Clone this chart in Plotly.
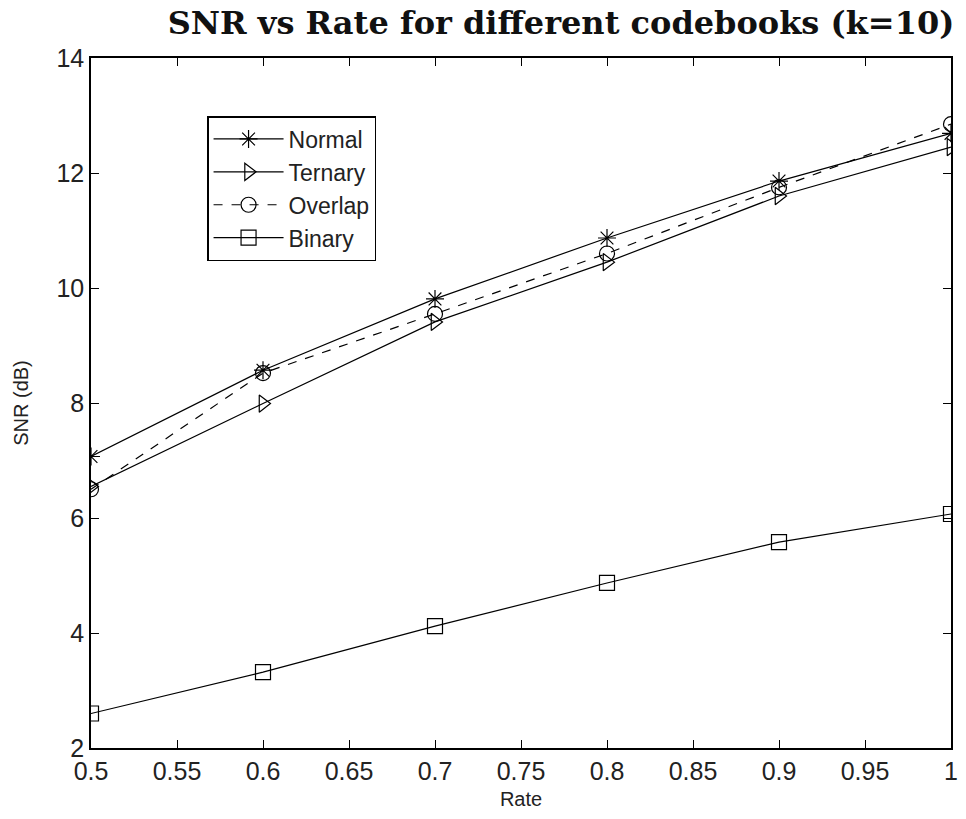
import plotly.graph_objects as go

rate = [0.5, 0.6, 0.7, 0.8, 0.9, 1.0]
normal = [7.07, 8.57, 9.81, 10.87, 11.86, 12.69]
ternary = [6.55, 7.99, 9.41, 10.45, 11.60, 12.45]
overlap = [6.50, 8.52, 9.55, 10.60, 11.75, 12.85]
binary = [2.60, 3.32, 4.12, 4.87, 5.58, 6.07]

series = [
    ("Normal", normal, "asterisk-open", "solid"),
    ("Ternary", ternary, "triangle-right-open", "solid"),
    ("Overlap", overlap, "circle-open", "dash"),
    ("Binary", binary, "square-open", "solid"),
]

fig = go.Figure()
for name, ys, sym, dash in series:
    fig.add_trace(go.Scatter(
        x=rate, y=ys, name=name, mode="lines+markers",
        line=dict(color="black", width=1.2, dash=dash),
        marker=dict(symbol=sym, size=15, color="black", line=dict(width=1.2, color="black")),
    ))

axis_font = dict(family="Liberation Sans, Arial", size=25, color="#222")
fig.update_layout(
    width=966, height=819,
    paper_bgcolor="white", plot_bgcolor="white",
    margin=dict(l=91, r=8, t=58, b=71),
    title=dict(text="<b>SNR vs Rate for different codebooks (k=10)</b>",
               font=dict(family="DejaVu Serif", size=32, color="#111"),
               x=561/966, xanchor="center", y=0.972, yanchor="middle"),
    font=axis_font,
    showlegend=True,
    legend=dict(x=(208-91)/867, y=(748-116)/690, xanchor="left", yanchor="top",
                bordercolor="black", borderwidth=1.5, bgcolor="white",
                font=dict(family="Liberation Sans, Arial", size=23, color="#222"),
                itemwidth=70, tracegroupgap=0),
)
fig.update_xaxes(range=[0.5, 1.0], dtick=0.05, tickformat="~g",
                 ticks="inside", ticklen=8, tickcolor="black",
                 showline=True, linecolor="black", linewidth=1.5, mirror="ticks",
                 showgrid=False, zeroline=False,
                 title=dict(text="Rate", font=dict(size=20), standoff=8))
fig.update_yaxes(range=[2, 14], dtick=2,
                 ticks="inside", ticklen=8, tickcolor="black",
                 showline=True, linecolor="black", linewidth=1.5, mirror="ticks",
                 showgrid=False, zeroline=False,
                 title=dict(text="SNR (dB)", font=dict(size=20), standoff=22))

fig.write_html("out.html")
